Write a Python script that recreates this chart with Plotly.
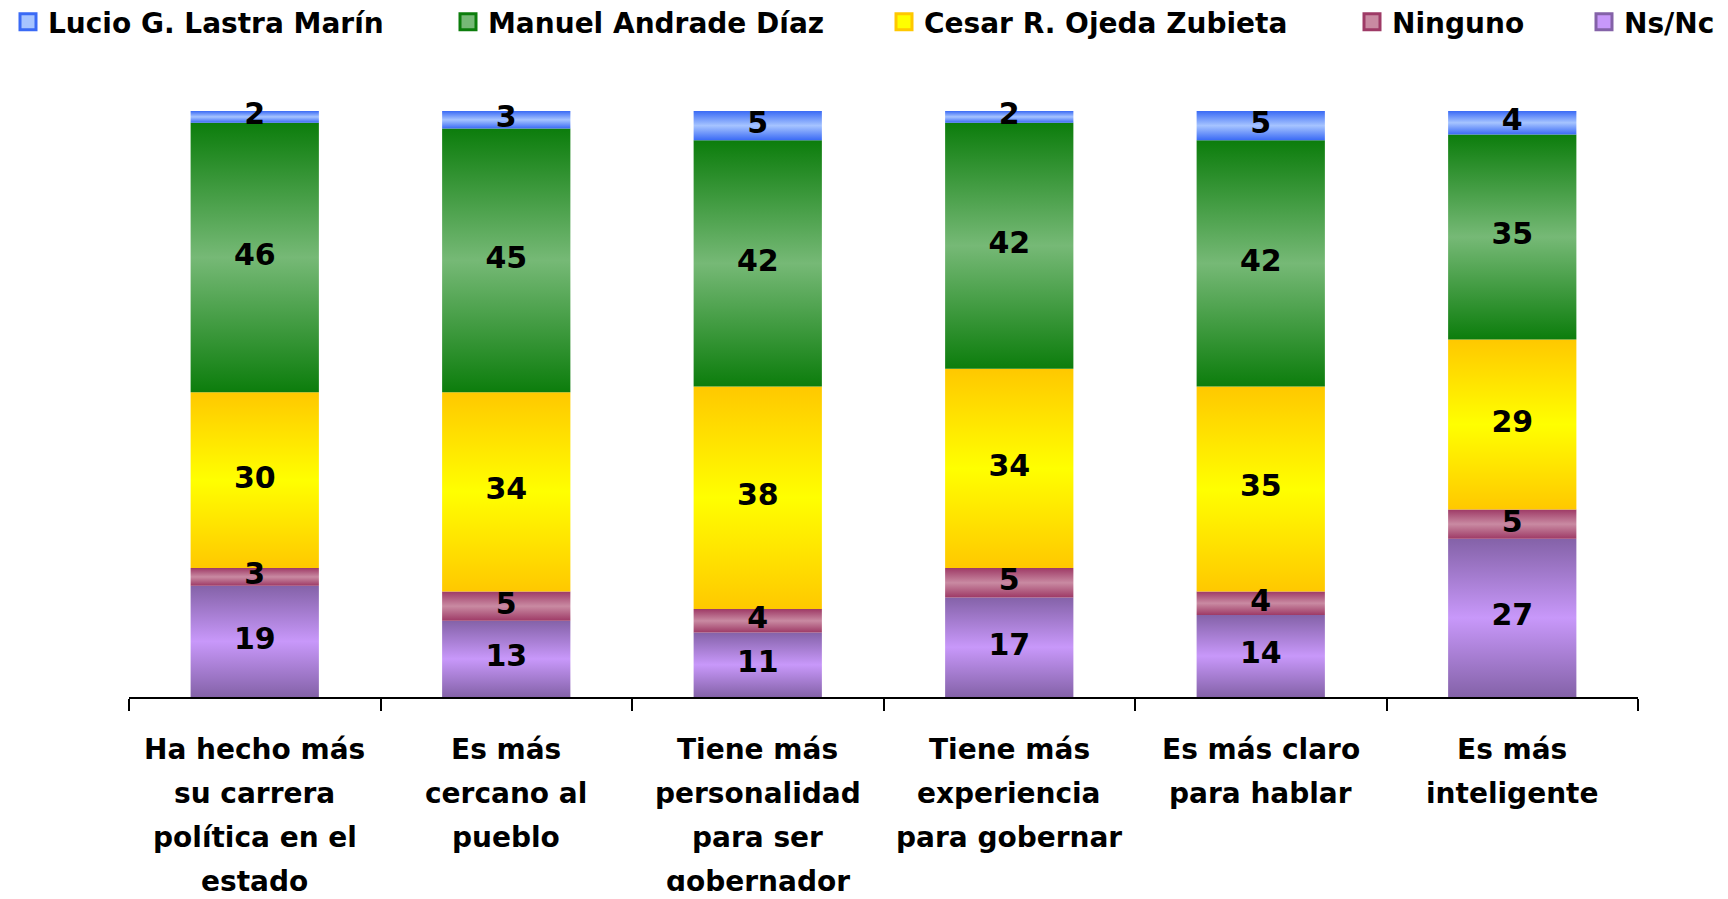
import plotly.graph_objects as go

categories = [
    ["Ha hecho más", "su carrera", "política en el", "estado"],
    ["Es más", "cercano al", "pueblo"],
    ["Tiene más", "personalidad", "para ser", "gobernador"],
    ["Tiene más", "experiencia", "para gobernar"],
    ["Es más claro", "para hablar"],
    ["Es más", "inteligente"],
]
series_names = ["Lucio G. Lastra Marín", "Manuel Andrade Díaz", "Cesar R. Ojeda Zubieta", "Ninguno", "Ns/Nc"]
lucio = [2, 3, 5, 2, 5, 4]
manuel = [46, 45, 42, 42, 42, 35]
cesar = [30, 34, 38, 34, 35, 29]
ninguno = [3, 5, 4, 5, 4, 5]
nsnc = [19, 13, 11, 17, 14, 27]

values = [lucio, manuel, cesar, ninguno, nsnc]
edge_colors = ["#3a6af5", "#0c7d0c", "#ffc800", "#9e3a66", "#8462a8"]
mid_colors = ["#a6c4ff", "#76b976", "#ffff00", "#c98aa2", "#c898fa"]

FONT = "DejaVu Sans"
W = 0.51
FIG_W, FIG_H = 1712, 883
M_L, M_R, M_T, M_B = 121, 82, 103, 194
PLOT_H = FIG_H - M_T - M_B
# left pixel of each legend entry (one small legend per series, laid out in a row)
LEGEND_X_PX = [0, 440, 876, 1344, 1581]

fig = go.Figure()
legend_ids = ["legend"] + ["legend%d" % (k + 2) for k in range(len(series_names) - 1)]

# legend-only entries
for s, name in enumerate(series_names):
    fig.add_trace(go.Scatter(
        x=[None], y=[None], mode="markers",
        marker=dict(symbol="square", size=20, color=mid_colors[s],
                    line=dict(color=edge_colors[s], width=3)),
        name=name, showlegend=True, legend=legend_ids[s],
        hoverinfo="skip",
    ))

# stack order bottom -> top: Ns/Nc, Ninguno, Cesar, Manuel, Lucio
stack_order = [4, 3, 2, 1, 0]
n = len(categories)
base = [0] * n
label_x, label_y, label_t = [], [], []
for s in stack_order:
    vals = values[s]
    for i in range(n):
        b = base[i]
        t = b + vals[i]
        fig.add_trace(go.Scatter(
            x=[i - W / 2, i + W / 2, i + W / 2, i - W / 2, i - W / 2],
            y=[b, b, t, t, b],
            mode="lines",
            line=dict(width=0, color=edge_colors[s]),
            fill="toself",
            fillcolor=mid_colors[s],
            fillgradient=dict(type="vertical",
                              colorscale=[[0, edge_colors[s]], [0.5, mid_colors[s]], [1, edge_colors[s]]]),
            name=series_names[s],
            showlegend=False,
            hoverinfo="skip",
        ))
        label_x.append(i)
        label_y.append((b + t) / 2)
        label_t.append(str(vals[i]))
        base[i] = t

fig.add_trace(go.Scatter(
    x=label_x, y=label_y, text=label_t, mode="text",
    textfont=dict(family=FONT, size=30, color="black", weight="bold"),
    showlegend=False, hoverinfo="skip", cliponaxis=False,
))

for i, lines in enumerate(categories):
    for k, line in enumerate(lines):
        fig.add_annotation(
            x=i, xref="x", y=-(52 + 44 * k) / PLOT_H, yref="paper",
            text=line, showarrow=False,
            font=dict(family=FONT, size=28, color="black", weight="bold"),
            xanchor="center", yanchor="middle",
        )

legend_font = dict(family=FONT, size=28, color="black", weight="bold")
legend_layouts = {}
for s, lid in enumerate(legend_ids):
    last = s == len(legend_ids) - 1
    legend_layouts[lid] = dict(
        orientation="h", xref="container", yref="container",
        x=1.0 if last else LEGEND_X_PX[s] / FIG_W, y=1 - 14 / FIG_H,
        xanchor="right" if last else "left", yanchor="middle",
        font=legend_font, itemsizing="trace", bgcolor="rgba(0,0,0,0)",
    )

fig.update_layout(
    width=FIG_W, height=FIG_H,
    margin=dict(l=M_L, r=M_R, t=M_T, b=M_B),
    plot_bgcolor="white", paper_bgcolor="white",
    showlegend=True,
    xaxis=dict(range=[-0.5, n - 0.5], tickvals=[i - 0.5 for i in range(n + 1)],
               ticktext=[""] * (n + 1), ticks="outside", ticklen=12, tickwidth=2,
               tickcolor="black", showline=True, linecolor="black", linewidth=2,
               showgrid=False, zeroline=False),
    yaxis=dict(range=[0, 100], visible=False, showgrid=False, zeroline=False),
    **legend_layouts,
)

fig.write_html("out.html")
